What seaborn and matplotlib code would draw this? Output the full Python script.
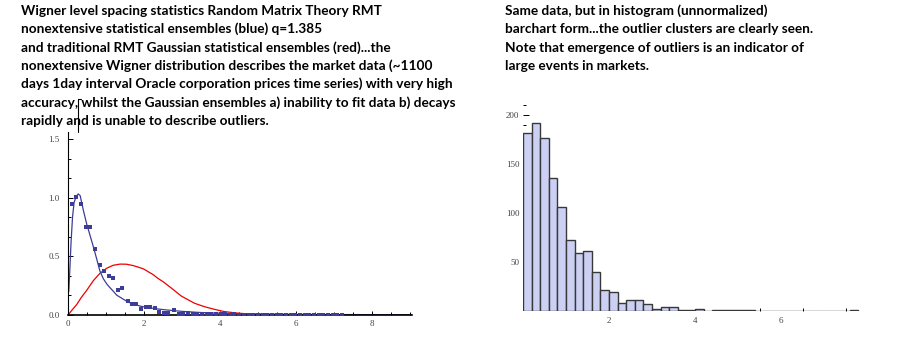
import numpy as np
import matplotlib
matplotlib.use("Agg")
import matplotlib.pyplot as plt
import seaborn as sns
from matplotlib.lines import Line2D
from matplotlib.ticker import FixedLocator

# ---------------- data ----------------
left_text = [
    "Wigner level spacing statistics Random Matrix Theory RMT",
    "nonextensive statistical ensembles (blue) q=1.385",
    "and traditional RMT Gaussian statistical ensembles (red)...the",
    "nonextensive Wigner distribution describes the market data (~1100",
    "days 1day interval Oracle corporation prices time series) with very high",
    "accuracy, whilst the Gaussian ensembles a) inability to fit data b) decays",
    "rapidly and is unable to describe outliers.",
]
right_text = [
    "Same data, but in histogram (unnormalized)",
    "barchart form...the outlier clusters are clearly seen.",
    "Note that emergence of outliers is an indicator of",
    "large events in markets.",
]

# empirical level-spacing density (blue squares)
pts_x = [0.11, 0.22, 0.35, 0.48, 0.59, 0.70, 0.83, 0.96, 1.09, 1.19, 1.32, 1.43,
         1.57, 1.68, 1.80, 1.93, 2.04, 2.16, 2.28, 2.40, 2.53, 2.64, 2.79, 2.91,
         3.03, 3.15, 3.28, 3.40, 3.52, 3.65, 3.77, 3.89, 4.02, 4.14, 4.26, 4.38,
         4.51, 4.63, 4.75, 4.88, 5.00, 5.12, 5.24, 5.37, 5.49, 5.61, 5.74, 5.86,
         5.98, 6.10, 6.23, 6.35, 6.47, 6.60, 6.72, 6.84, 6.96, 7.09, 7.21]
pts_y = [0.946, 1.010, 0.946, 0.750, 0.750, 0.562, 0.425, 0.376, 0.336, 0.313, 0.211, 0.228,
         0.118, 0.094, 0.094, 0.049, 0.068, 0.066, 0.062, 0.028, 0.017, 0.017, 0.043, 0.006,
         0.012, 0.015, 0.010, 0.012, 0.008, 0.010, 0.006, 0.008, 0.006, 0.006, 0.004, 0.006,
         0.004, 0.004, 0.004, 0.004, 0.004, 0.004, 0.004, 0.004, 0.004, 0.004, 0.004, 0.004,
         0.004, 0.004, 0.004, 0.004, 0.004, 0.004, 0.004, 0.004, 0.004, 0.004, 0.004]

# nonextensive Wigner fit (blue curve)
blue_x = [0.02, 0.05, 0.08, 0.12, 0.16, 0.21, 0.27, 0.32, 0.36, 0.40, 0.49, 0.58,
          0.67, 0.75, 0.84, 0.93, 1.02, 1.10, 1.20, 1.28, 1.38, 1.46, 1.56, 1.70,
          1.89, 2.05, 2.24, 2.40, 2.60, 2.80, 3.00, 3.20, 3.50, 4.00, 4.50, 5.00,
          5.50, 6.00, 7.00, 8.00, 9.05]
blue_y = [0.20, 0.40, 0.62, 0.84, 0.96, 1.01, 1.035, 1.02, 0.96, 0.90, 0.78, 0.68,
          0.58, 0.485, 0.375, 0.31, 0.265, 0.235, 0.20, 0.17, 0.15, 0.134, 0.115, 0.095,
          0.077, 0.066, 0.057, 0.050, 0.043, 0.037, 0.031, 0.027, 0.021, 0.015, 0.011, 0.008,
          0.007, 0.005, 0.004, 0.003, 0.003]

# Gaussian RMT Wigner surmise (red curve)
red_x = [0.00, 0.10, 0.23, 0.35, 0.49, 0.67, 0.84, 1.02, 1.19, 1.37, 1.54, 1.72,
         1.98, 2.24, 2.36, 2.50, 2.68, 2.98, 3.33, 3.60, 3.87, 4.10, 4.40, 4.70,
         5.00, 5.40, 5.80]
red_y = [0.000, 0.040, 0.090, 0.150, 0.210, 0.295, 0.356, 0.400, 0.425, 0.435, 0.434, 0.422,
         0.395, 0.345, 0.314, 0.285, 0.240, 0.162, 0.100, 0.070, 0.047, 0.030, 0.018, 0.010,
         0.006, 0.003, 0.000]

# histogram (unnormalized counts), bins of width 0.2
hist_left = [0.0, 0.2, 0.4, 0.6, 0.8, 1.0, 1.2, 1.4, 1.6, 1.8, 2.0, 2.2, 2.4, 2.6,
             2.8, 3.0, 3.2, 3.4, 3.6, 3.8, 4.0, 4.4, 4.6, 4.8, 5.0, 5.2, 7.6]
hist_count = [181, 192, 176, 136, 106, 72, 59, 61, 40, 21, 19, 8, 11, 11,
              7, 2, 4, 4, 1, 1, 2, 1, 1, 1, 1, 1, 1]
bin_width = 0.2

left_xticks = [0, 2, 4, 6, 8]
left_yticks = [0.0, 0.5, 1.0, 1.5]
right_xticks = [2, 4, 6]
right_yticks = [50, 100, 150, 200]

# ---------------- style ----------------
sns.set_theme(style="white")
plt.rcParams['font.family'] = ['Lato', 'DejaVu Sans']

BLUE = "#3d3d99"
RED = "#ee0000"
FILL = "#ccd0f3"
EDGE = "#383838"
TICKC = "#444444"
TICKFONT = dict(family=['Liberation Serif', 'DejaVu Serif'], size=6.5)

W, H = 899, 362
fig = plt.figure(figsize=(W / 100, H / 100), dpi=100)
fig.patch.set_facecolor("white")


def px_axes(l, t, r, b):
    return fig.add_axes([l / W, 1 - b / H, (r - l) / W, (b - t) / H])


# ---------------- left chart ----------------
ax1 = px_axes(68, 132, 412, 315)
ax1.set_facecolor("white")
sns.lineplot(x=red_x, y=red_y, ax=ax1, color=RED, lw=0.9, sort=False, estimator=None)
sns.lineplot(x=blue_x, y=blue_y, ax=ax1, color=BLUE, lw=0.9, sort=False, estimator=None)
sns.scatterplot(x=pts_x, y=pts_y, ax=ax1, color=BLUE, marker='s', s=8, linewidth=0, zorder=5)
ax1.set_xlim(0, 9.05)
ax1.set_ylim(0, 1.564)
for s in ("top", "right"):
    ax1.spines[s].set_visible(False)
for s in ("left", "bottom"):
    ax1.spines[s].set_color("black")
    ax1.spines[s].set_linewidth(0.8)
ax1.spines["bottom"].set_linewidth(1.2)
ax1.xaxis.set_major_locator(FixedLocator(left_xticks))
ax1.yaxis.set_major_locator(FixedLocator(left_yticks))
ax1.xaxis.set_minor_locator(FixedLocator([0.5, 1, 1.5, 2.5, 3, 3.5, 4.5, 5, 5.5, 6.5, 7, 7.5, 8.5, 9]))
ax1.yaxis.set_minor_locator(FixedLocator([1/6, 2/6, 4/6, 5/6, 7/6, 8/6]))
ax1.set_xticklabels([str(v) for v in left_xticks], fontdict=TICKFONT, color=TICKC)
ax1.set_yticklabels([f"{v:.1f}" for v in left_yticks], fontdict=TICKFONT, color=TICKC)
ax1.tick_params(axis='both', which='both', direction='in', color='black', width=0.7,
                bottom=True, left=True)
ax1.tick_params(axis='y', which='major', length=3.5, pad=6.0)
ax1.tick_params(axis='y', which='minor', length=2.0)
ax1.tick_params(axis='x', which='major', length=3.0, pad=3.5)
ax1.tick_params(axis='x', which='minor', length=2.0)
ax1.set_xlabel("")
ax1.set_ylabel("")

# ---------------- right chart (histogram) ----------------
ax2 = px_axes(523, 104, 862.7, 311)
ax2.set_facecolor("white")
centers = [l + bin_width / 2 for l in hist_left]
sns.histplot(x=centers, weights=hist_count, binwidth=bin_width, binrange=(0, 7.8),
             ax=ax2, color=FILL, edgecolor=EDGE, linewidth=1.0, alpha=1)
ax2.set_xlim(0, 7.9)
ax2.set_ylim(0, 211)
for s in ax2.spines.values():
    s.set_visible(False)
ax2.xaxis.set_major_locator(FixedLocator(right_xticks))
ax2.yaxis.set_major_locator(FixedLocator(right_yticks))
ax2.xaxis.set_minor_locator(FixedLocator([4, 5.5, 6.5, 7.5]))
ax2.yaxis.set_minor_locator(FixedLocator([v for v in range(10, 211, 10) if v % 50]))
ax2.set_xticklabels([str(v) for v in right_xticks], fontdict=TICKFONT, color=TICKC)
ax2.set_yticklabels([str(v) for v in right_yticks], fontdict=TICKFONT, color=TICKC)
ax2.tick_params(axis='both', which='both', direction='in', color='black', width=0.7,
                bottom=True, left=True)
ax2.tick_params(axis='y', which='major', length=4.0, pad=2.5)
ax2.tick_params(axis='y', which='minor', length=2.2)
ax2.tick_params(axis='x', which='major', length=0, pad=4)
ax2.tick_params(axis='x', which='minor', length=2.0)
ax2.set_xlabel("")
ax2.set_ylabel("")

# ---------------- text blocks ----------------
renderer = fig.canvas.get_renderer()
probe = fig.text(0, 0, left_text[0], fontsize=10, fontweight='bold')
w = probe.get_window_extent(renderer).width
probe.remove()
fs = 10 * 359 / w

line_h = 18.3
for i, line in enumerate(left_text):
    fig.text(21 / W, 1 - (15 + i * line_h) / H, line, fontsize=fs, fontweight='bold',
             color='black', va='baseline', ha='left')
for i, line in enumerate(right_text):
    fig.text(505 / W, 1 - (15 + i * line_h) / H, line, fontsize=fs, fontweight='bold',
             color='black', va='baseline', ha='left')

# stray text-cursor mark seen in the original screenshot
fig.add_artist(Line2D([78 / W, 78 / W], [1 - 98.5 / H, 1 - 131.5 / H], color='black', lw=0.8))
fig.add_artist(Line2D([78 / W, 81 / W], [1 - 98.5 / H, 1 - 98.5 / H], color='black', lw=0.8))

fig.savefig("out.png", dpi=100, facecolor="white")
